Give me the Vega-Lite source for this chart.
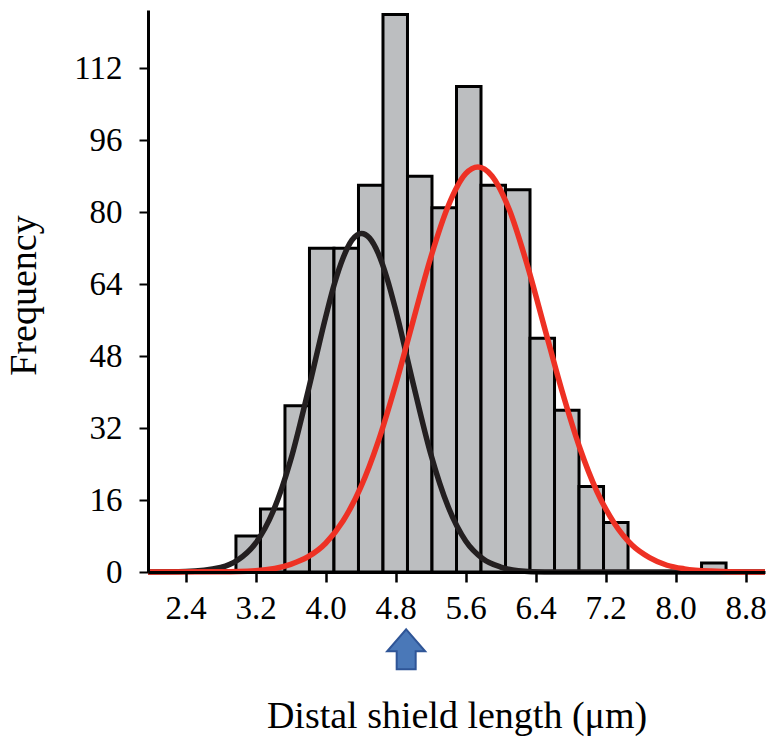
{
  "$schema": "https://vega.github.io/schema/vega-lite/v6.json",
  "width": 617,
  "height": 562,
  "autosize": {"type": "none"},
  "padding": {"left": 148, "top": 10, "right": 8, "bottom": 166},
  "background": "white",
  "config": {"view": {"stroke": null}, "font": "Liberation Serif"},
  "datasets": {
    "bins": [
      {"start": 2.975, "end": 3.255, "count": 8},
      {"start": 3.255, "end": 3.535, "count": 14},
      {"start": 3.535, "end": 3.815, "count": 37},
      {"start": 3.815, "end": 4.095, "count": 72},
      {"start": 4.095, "end": 4.375, "count": 72},
      {"start": 4.375, "end": 4.655, "count": 86},
      {"start": 4.655, "end": 4.935, "count": 124},
      {"start": 4.935, "end": 5.215, "count": 88},
      {"start": 5.215, "end": 5.495, "count": 81},
      {"start": 5.495, "end": 5.775, "count": 108},
      {"start": 5.775, "end": 6.055, "count": 86},
      {"start": 6.055, "end": 6.335, "count": 85},
      {"start": 6.335, "end": 6.615, "count": 52},
      {"start": 6.615, "end": 6.895, "count": 36},
      {"start": 6.895, "end": 7.175, "count": 19},
      {"start": 7.175, "end": 7.455, "count": 11},
      {"start": 8.295, "end": 8.575, "count": 2}
    ],
    "curves": [
      {"fit": "black", "x": 1.97, "y": 0},
      {"fit": "black", "x": 2.4, "y": 0.1},
      {"fit": "black", "x": 2.8, "y": 1.0},
      {"fit": "black", "x": 3.0, "y": 2.7},
      {"fit": "black", "x": 3.2, "y": 6.4},
      {"fit": "black", "x": 3.4, "y": 13.5},
      {"fit": "black", "x": 3.6, "y": 24.9},
      {"fit": "black", "x": 3.8, "y": 40.3},
      {"fit": "black", "x": 4.0, "y": 56.7},
      {"fit": "black", "x": 4.1, "y": 64.1},
      {"fit": "black", "x": 4.2, "y": 69.9},
      {"fit": "black", "x": 4.3, "y": 73.8},
      {"fit": "black", "x": 4.41, "y": 75.3},
      {"fit": "black", "x": 4.5, "y": 74.3},
      {"fit": "black", "x": 4.6, "y": 70.9},
      {"fit": "black", "x": 4.7, "y": 65.4},
      {"fit": "black", "x": 4.8, "y": 58.3},
      {"fit": "black", "x": 5.0, "y": 41.9},
      {"fit": "black", "x": 5.2, "y": 26.3},
      {"fit": "black", "x": 5.4, "y": 14.5},
      {"fit": "black", "x": 5.6, "y": 6.9},
      {"fit": "black", "x": 5.8, "y": 2.9},
      {"fit": "black", "x": 6.0, "y": 1.1},
      {"fit": "black", "x": 6.2, "y": 0.3},
      {"fit": "black", "x": 6.5, "y": 0},
      {"fit": "black", "x": 9.02, "y": 0},
      {"fit": "red", "x": 1.97, "y": 0},
      {"fit": "red", "x": 2.8, "y": 0.05},
      {"fit": "red", "x": 3.2, "y": 0.3},
      {"fit": "red", "x": 3.6, "y": 1.7},
      {"fit": "red", "x": 3.8, "y": 3.4},
      {"fit": "red", "x": 4.0, "y": 6.4},
      {"fit": "red", "x": 4.2, "y": 11.4},
      {"fit": "red", "x": 4.4, "y": 18.8},
      {"fit": "red", "x": 4.6, "y": 29.0},
      {"fit": "red", "x": 4.8, "y": 41.7},
      {"fit": "red", "x": 5.0, "y": 55.9},
      {"fit": "red", "x": 5.2, "y": 69.9},
      {"fit": "red", "x": 5.4, "y": 81.4},
      {"fit": "red", "x": 5.6, "y": 88.6},
      {"fit": "red", "x": 5.74, "y": 90.1},
      {"fit": "red", "x": 5.9, "y": 88.1},
      {"fit": "red", "x": 6.1, "y": 80.5},
      {"fit": "red", "x": 6.3, "y": 68.5},
      {"fit": "red", "x": 6.5, "y": 54.4},
      {"fit": "red", "x": 6.7, "y": 40.3},
      {"fit": "red", "x": 6.9, "y": 27.8},
      {"fit": "red", "x": 7.1, "y": 17.9},
      {"fit": "red", "x": 7.3, "y": 10.8},
      {"fit": "red", "x": 7.5, "y": 6.0},
      {"fit": "red", "x": 7.7, "y": 3.2},
      {"fit": "red", "x": 7.9, "y": 1.5},
      {"fit": "red", "x": 8.1, "y": 0.7},
      {"fit": "red", "x": 8.4, "y": 0.2},
      {"fit": "red", "x": 8.8, "y": 0},
      {"fit": "red", "x": 9.02, "y": 0}
    ],
    "arrow": [{"x": 4.92, "y": -17.2}]
  },
  "layer": [
    {
      "data": {"name": "bins"},
      "mark": {"type": "rect", "fill": "#bcbec0", "stroke": "#000000", "strokeWidth": 3},
      "encoding": {
        "x": {
          "field": "start",
          "type": "quantitative",
          "scale": {"domain": [1.97, 9.02], "nice": false, "zero": false},
          "axis": {
            "values": [2.4, 3.2, 4.0, 4.8, 5.6, 6.4, 7.2, 8.0, 8.8],
            "format": ".1f",
            "grid": false,
            "labelFontSize": 33,
            "labelColor": "#000000",
            "labelPadding": 10,
            "labelFlush": false,
            "labelOverlap": false,
            "tickColor": "#000000",
            "tickSize": 10,
            "tickWidth": 2.5,
            "domainColor": "#000000",
            "domainWidth": 3,
            "title": "Distal shield length (μm)",
            "titleFontSize": 38,
            "titleFontWeight": "normal",
            "titleColor": "#000000",
            "titleBaseline": "alphabetic",
            "titleY": 155,
            "zindex": 1
          }
        },
        "x2": {"field": "end"},
        "y": {
          "field": "count",
          "type": "quantitative",
          "scale": {"domain": [0, 125], "nice": false},
          "axis": {
            "values": [0, 16, 32, 48, 64, 80, 96, 112],
            "grid": false,
            "labelFontSize": 33,
            "labelColor": "#000000",
            "labelPadding": 17,
            "tickColor": "#000000",
            "tickSize": 9,
            "tickWidth": 2,
            "domainColor": "#000000",
            "domainWidth": 3,
            "title": "Frequency",
            "titleFontSize": 38,
            "titleFontWeight": "normal",
            "titleColor": "#000000",
            "titleAngle": -90,
            "titleAlign": "center",
            "titleBaseline": "middle",
            "titleX": -124,
            "titleY": 285,
            "zindex": 1
          }
        }
      }
    },
    {
      "data": {"name": "curves"},
      "mark": {"type": "line", "interpolate": "monotone", "strokeWidth": 5.5},
      "encoding": {
        "x": {"field": "x", "type": "quantitative"},
        "y": {"field": "y", "type": "quantitative"},
        "color": {
          "field": "fit",
          "type": "nominal",
          "scale": {"domain": ["black", "red"], "range": ["#231f20", "#ee3124"]},
          "legend": null
        }
      }
    },
    {
      "data": {"name": "arrow"},
      "mark": {
        "type": "point",
        "shape": "M0,-1L0.95,0.1L0.475,0.1L0.475,1L-0.475,1L-0.475,0.1L-0.95,0.1Z",
        "size": 1600,
        "filled": true,
        "fill": "#4a78b8",
        "stroke": "#2f5597",
        "strokeWidth": 2,
        "opacity": 1
      },
      "encoding": {
        "x": {"field": "x", "type": "quantitative"},
        "y": {"field": "y", "type": "quantitative"}
      }
    }
  ]
}
